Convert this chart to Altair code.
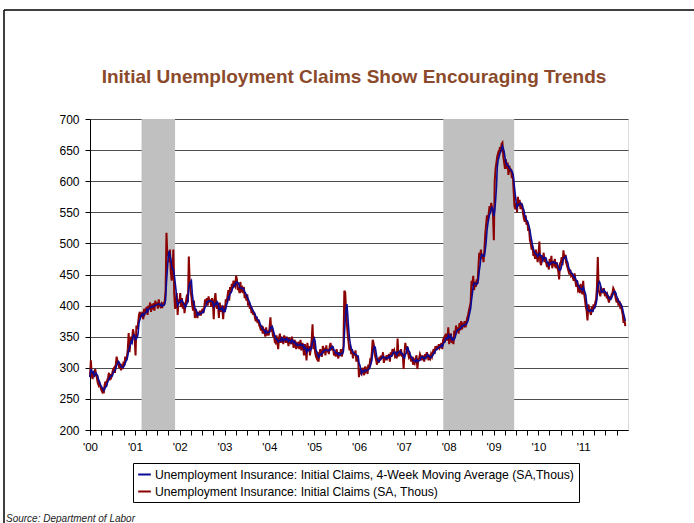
import json
import altair as alt
import pandas as pd

TITLE = "Initial Unemployment Claims Show Encouraging Trends"
MA_LABEL = "Unemployment Insurance: Initial Claims, 4-Week Moving Average (SA,Thous)"
RAW_LABEL = "Unemployment Insurance: Initial Claims (SA, Thous)"
SOURCE = "Source: Department of Labor"

year_keys = ["2000-01", "2001-01", "2002-01", "2003-01", "2004-01", "2005-01",
             "2006-01", "2007-01", "2008-01", "2009-01", "2010-01", "2011-01"]
year_labels = ["'00", "'01", "'02", "'03", "'04", "'05", "'06", "'07", "'08", "'09", "'10", "'11"]
y_ticks = [200, 250, 300, 350, 400, 450, 500, 550, 600, 650, 700]

# recessions (NBER)
rec_start = ["2001-02-24", "2007-11-18"]
rec_end = ["2001-11-24", "2009-06-18"]

# weekly initial claims (SA, thous)
c2000 = [285, 312, 288, 282, 292, 286, 298, 290, 284, 276, 272, 276, 270,
         265, 262, 268, 259, 272, 278, 270, 280, 284, 292, 280, 290, 286,
         292, 298, 300, 292, 305, 318, 310, 308, 300, 306, 296, 302, 298,
         310, 304, 318, 312, 318, 330, 356, 325, 340, 350, 345, 362, 355]
c2001 = [345, 320, 368, 362, 372, 385, 390, 382, 385, 390, 378, 395, 388,
         392, 398, 385, 400, 396, 405, 390, 402, 398, 404, 392, 408, 400,
         405, 395, 410, 400, 398, 402, 396, 405, 400, 408, 425, 517, 480,
         485, 470, 490, 455, 440, 450, 490, 420, 395, 400, 420, 385, 410]
c2002 = [405, 420, 398, 412, 395, 405, 388, 400, 410, 418, 405, 479, 440,
         425, 415, 400, 392, 408, 380, 395, 385, 380, 390, 385, 392, 384,
         390, 395, 388, 398, 410, 402, 412, 400, 415, 405, 410, 398, 412,
         405, 378, 410, 420, 400, 395, 402, 380, 405, 390, 400, 395, 378]
c2003 = [400, 390, 410, 405, 415, 425, 408, 430, 420, 435, 428, 440, 432,
         430, 448, 442, 425, 430, 420, 438, 425, 428, 420, 430, 412, 418,
         408, 418, 400, 405, 395, 400, 388, 392, 385, 390, 380, 375, 382,
         372, 378, 368, 365, 360, 368, 355, 362, 358, 350, 365, 352, 360]
c2004 = [352, 365, 381, 358, 362, 350, 355, 342, 340, 352, 345, 330, 348,
         355, 340, 350, 345, 338, 352, 348, 340, 350, 345, 335, 348, 342,
         338, 350, 342, 332, 345, 340, 330, 338, 335, 342, 330, 345, 328,
         340, 335, 320, 338, 330, 312, 340, 328, 335, 320, 332, 345, 370]
c2005 = [330, 345, 325, 318, 315, 325, 310, 322, 330, 322, 318, 335, 328,
         332, 320, 336, 325, 330, 322, 335, 340, 328, 335, 330, 320, 325,
         318, 330, 322, 315, 325, 320, 330, 318, 325, 335, 424, 421, 395,
         370, 352, 340, 328, 335, 322, 330, 315, 325, 320, 328, 310, 318]
c2006 = [318, 285, 298, 292, 290, 300, 296, 288, 302, 295, 298, 290, 305,
         300, 312, 310, 325, 345, 340, 328, 318, 312, 305, 315, 308, 318,
         312, 320, 315, 325, 308, 318, 312, 320, 315, 318, 322, 310, 325,
         318, 330, 325, 328, 318, 320, 315, 347, 318, 325, 320, 330, 318]
c2007 = [322, 298, 325, 340, 330, 335, 325, 318, 322, 315, 310, 318, 305,
         312, 308, 315, 320, 298, 312, 315, 322, 318, 312, 320, 315, 310,
         322, 318, 325, 320, 312, 318, 315, 322, 318, 325, 330, 322, 335,
         328, 335, 330, 338, 332, 335, 340, 330, 345, 348, 342, 355, 345]
c2008 = [345, 365, 338, 350, 355, 340, 345, 338, 360, 352, 368, 358, 365,
         355, 372, 360, 375, 362, 370, 368, 375, 365, 372, 380, 385, 392,
         398, 405, 440, 432, 448, 425, 438, 430, 442, 435, 460, 485, 480,
         490, 475, 482, 470, 490, 515, 530, 545, 535, 548, 560, 552, 565]
c2009 = [555, 548, 505, 600, 620, 630, 640, 645, 640, 655, 648, 660, 662,
         640, 630, 620, 635, 620, 630, 610, 625, 615, 620, 605, 612, 585,
         560, 555, 565, 550, 575, 560, 570, 555, 565, 560, 548, 540, 535,
         545, 530, 535, 520, 525, 505, 500, 490, 495, 480, 485, 475, 490]
c2010 = [480, 470, 482, 503, 470, 465, 480, 475, 485, 470, 478, 468, 462,
         470, 458, 475, 465, 480, 460, 472, 468, 475, 460, 470, 462, 455,
         442, 468, 470, 478, 465, 489, 475, 482, 470, 465, 460, 455, 450,
         458, 448, 450, 445, 440, 452, 438, 430, 440, 425, 428, 420, 435]
c2011 = [425, 418, 440, 420, 410, 398, 392, 376, 402, 395, 390, 385, 398,
         390, 402, 395, 405, 410, 430, 478, 425, 420, 415, 428, 425, 420,
         428, 418, 420, 415, 418, 410, 405, 415, 410, 418, 420, 428, 425,
         418, 410, 405, 412, 400, 408, 398, 400, 392, 385, 372, 378, 367]

claims = (c2000 + c2001 + c2002 + c2003 + c2004 + c2005 + c2006 + c2007 +
          c2008 + c2009 + c2010 + c2011)
dates = pd.date_range("2000-01-01", periods=len(claims), freq="7D").strftime("%Y-%m-%d")
df = pd.DataFrame({"date": list(dates), "claims": claims})
rec_df = pd.DataFrame({"start": rec_start, "end": rec_end})
one = pd.DataFrame({"k": [0]})

RED = "#8B0000"
BLUE = "#0A0A96"
FONT = "Liberation Sans"

T0 = int(pd.Timestamp("2000-01-01").value // 10**6)
T1 = int(pd.Timestamp("2012-01-01").value // 10**6)
quarter_ms = [int(pd.Timestamp(f"{2000 + i // 4}-{1 + 3 * (i % 4):02d}-01").value // 10**6)
              for i in range(48)]

W, H = 538, 311

xscale = alt.Scale(type="utc", domain=[T0, T1])
yscale = alt.Scale(domain=[200, 700], nice=False, zero=False)

label_map = "{" + ",".join(f'"{k}":{json.dumps(l)}' for k, l in zip(year_keys, year_labels)) + "}"

xaxis = alt.Axis(values=quarter_ms,
                 labelExpr=f"{label_map}[utcFormat(datum.value, '%Y-%m')] || ''",
                 tickSize=5, tickColor="black", domainColor="black", grid=False,
                 title=None, labelFont=FONT, labelFontSize=11.5, labelColor="black",
                 labelPadding=6, labelFlush=False, labelOverlap=False)
yaxis = alt.Axis(values=y_ticks, grid=True, gridColor="#4d4d4d", gridWidth=1,
                 tickSize=5, tickColor="black", domainColor="black", title=None,
                 labelFont=FONT, labelFontSize=12, labelColor="black", labelPadding=6)

color = alt.Color("series:N",
                  scale=alt.Scale(domain=[MA_LABEL, RAW_LABEL], range=[BLUE, RED]),
                  legend=alt.Legend(title=None, orient="none", legendX=43, legendY=344,
                                    direction="vertical", strokeColor="black",
                                    fillColor="white", padding=4, rowPadding=3,
                                    symbolType="stroke", symbolStrokeWidth=2,
                                    symbolSize=160, labelFont=FONT, labelFontSize=12.2,
                                    labelColor="black", labelLimit=600, labelOffset=3))

shade = alt.Chart(rec_df).mark_rect(color="#C0C0C0").encode(
    x=alt.X("start:T", scale=xscale, axis=xaxis),
    x2="end:T",
    y=alt.Y(datum=700, type="quantitative", scale=yscale, axis=yaxis),
    y2=alt.datum(200),
)

red = alt.Chart(df).transform_calculate(series=json.dumps(RAW_LABEL)).mark_line(
    strokeWidth=2).encode(
    x=alt.X("date:T", scale=xscale, axis=xaxis),
    y=alt.Y("claims:Q", scale=yscale, axis=yaxis),
    color=color,
)

blue = alt.Chart(df).transform_window(
    ma="mean(claims)", frame=[-3, 0], sort=[alt.SortField("date")]
).transform_calculate(series=json.dumps(MA_LABEL)).mark_line(strokeWidth=1.6).encode(
    x=alt.X("date:T", scale=xscale, axis=xaxis),
    y=alt.Y("ma:Q", scale=yscale, axis=yaxis),
    color=color,
)

frame_top = alt.Chart(one).mark_rule(color="black", strokeWidth=1.5).encode(
    x=alt.value(-86), x2=alt.value(606), y=alt.value(-109))
frame_left = alt.Chart(one).mark_rule(color="black", strokeWidth=1.5).encode(
    x=alt.value(-86), y=alt.value(-109), y2=alt.value(406))
source = alt.Chart(one).mark_text(
    align="left", baseline="alphabetic", font=FONT, fontSize=10, fontStyle="italic",
    color="#222222").encode(x=alt.value(-84), y=alt.value(403), text=alt.value(SOURCE))
title = alt.Chart(one).mark_text(
    align="center", baseline="alphabetic",
    font="Liberation Sans Narrow, Arial Narrow, Liberation Sans",
    fontSize=19, fontWeight="bold", color="#8B4A2B").encode(
    x=alt.value(264), y=alt.value(-36), text=alt.value(TITLE))

chart = alt.layer(shade, red, blue, frame_top, frame_left, source, title).properties(
    width=W, height=H,
    autosize=alt.AutoSizeParams(type="none"),
    padding={"left": 90, "top": 119, "right": 66, "bottom": 93},
).configure_view(stroke="#555555", strokeWidth=1).configure(background="white")

chart.save("out.html", embed_options={"renderer": "svg", "actions": False})
